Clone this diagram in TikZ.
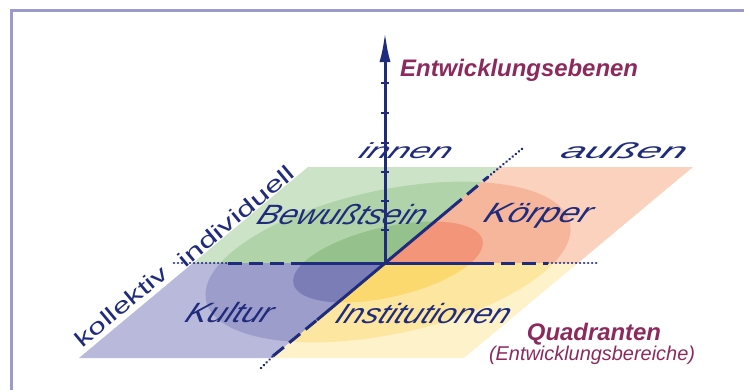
\documentclass[tikz,border=0pt]{standalone}
\usepackage{fontspec}
\setmainfont{Liberation Sans}
\usepackage{xcolor}
\definecolor{Navy}{HTML}{1F2B7B}
\definecolor{Wine}{HTML}{8C2A5E}
\definecolor{Frame}{HTML}{9A9BCB}
\definecolor{GreenA}{HTML}{CCE3C8}
\definecolor{GreenB}{HTML}{B1D3A9}
\definecolor{GreenC}{HTML}{94C18C}
\definecolor{OrangeA}{HTML}{FAD2BE}
\definecolor{OrangeB}{HTML}{F6B69C}
\definecolor{OrangeC}{HTML}{F29579}
\definecolor{YellowA}{HTML}{FEF2CB}
\definecolor{YellowB}{HTML}{FDE6A0}
\definecolor{YellowC}{HTML}{FCD96F}
\definecolor{BlueA}{HTML}{B8B9DB}
\definecolor{BlueB}{HTML}{9C9DCB}
\definecolor{BlueC}{HTML}{7B7DB6}
\usepackage{tikz}
\usetikzlibrary{arrows.meta,calc}
\tikzset{
  axisline/.style={draw=Navy,line width=3bp},
  dashpart/.style={axisline,dash pattern=on 14bp off 7bp},
  dotpart/.style={draw=Navy,line width=2.8bp,line cap=round,dash pattern=on 0.01bp off 4bp},
  tickmark/.style={draw=Navy,line width=2bp},
  quadlabel/.style={text=Navy,font=\fontsize{28}{30}\selectfont\itshape,inner sep=0pt,
    anchor=base,xslant=.45},
  toplabel/.style={text=Navy,font=\fontsize{22}{24}\selectfont\itshape,inner sep=0pt,
    anchor=base,xslant=.5},
  sidelabel/.style={text=Navy,font=\fontsize{22}{24}\selectfont,inner sep=0pt,rotate=39.8},
  headline/.style={text=Wine,font=\fontsize{24}{26}\selectfont\bfseries\itshape,inner sep=0pt,anchor=base}
}
\begin{document}
\begin{tikzpicture}[x=1bp,y=1bp]
\useasboundingbox (0,0) rectangle (744,390);
\draw[Frame,line width=3bp] (11,0) -- (11,379) -- (744,379);
% plane
\coordinate (O) at (385,127);
\coordinate (E) at (388,128);
\coordinate (T) at (500,223);
\coordinate (B) at (271,32);
\coordinate (ML) at (193,127);
\coordinate (MR) at (578,127);
\coordinate (TL) at (308,223);
\coordinate (TR) at (693,223);
\coordinate (BL) at (79,32);
\coordinate (BR) at (464,32);
\foreach \a/\b/\c/\d/\q in {TL/T/O/ML/Green,T/TR/MR/O/Orange,O/MR/BR/B/Yellow,ML/O/B/BL/Blue}{
  \begin{scope}
    \clip (\a) -- (\b) -- (\c) -- (\d) -- cycle;
    \fill[fill=\q A] (\a) -- (\b) -- (\c) -- (\d) -- cycle;
    \fill[fill=\q B,rotate around={12:(E)}] (E) ellipse [x radius=186,y radius=72];
    \fill[fill=\q C,rotate around={13:(E)}] (E) ellipse [x radius=97,y radius=35];
  \end{scope}
}
% labels
\node[quadlabel,xscale=1.15] (bew) at (339,166) {Bewußtsein};
\node[quadlabel,xscale=1.27] (koe) at (535,168) {Körper};
\node[quadlabel,xscale=1.17] (kul) at (226,68) {Kultur};
\node[quadlabel,xscale=1.15] (ins) at (420,67) {Institutionen};
\node[toplabel,xscale=1.7] (inn) at (403,232) {innen};
\node[toplabel,xscale=2.0] (aus) at (621,232) {außen};
\node[sidelabel] (kol) at (121,84) {\scalebox{1.45}[1]{kollektiv}};
\node[sidelabel] (ind) at (236,174) {\scalebox{1.5}[1]{individuell}};
\node[headline,anchor=base west] (ebn) at (400,314) {Entwicklungsebenen};
\node[headline] (qua) at (594,50) {Quadranten};
\node[headline,font=\fontsize{20}{22}\selectfont\itshape] (ber) at (592,30) {(Entwicklungsbereiche)};
% axes
\coordinate (hL0) at (174,127);
\coordinate (hL1) at (228,127);
\coordinate (hL2) at (300,127);
\coordinate (hR2) at (480,127);
\coordinate (hR1) at (548,127);
\coordinate (hR0) at (598,127);
\coordinate (dU2) at (451,182);
\coordinate (dU1) at (488,213);
\coordinate (dU0) at (523,242);
\coordinate (dD2) at (317,70);
\coordinate (dD1) at (273,34);
\coordinate (dD0) at (261,22);
\coordinate (Top) at (385,358);
\draw[dotpart] (hL0) -- (hL1);
\draw[dashpart] (hL1) -- (hL2);
\draw[axisline] (hL2) -- (hR2);
\draw[dashpart] (hR2) -- (hR1);
\draw[dotpart] (hR1) -- (hR0);
\draw[dotpart] (dD0) -- (dD1);
\draw[dashpart] (dD1) -- (dD2);
\draw[axisline] (dD2) -- (dU2);
\draw[dashpart] (dU2) -- (dU1);
\draw[dotpart] (dU1) -- (dU0);
\draw[axisline,-{Latex[length=30bp,width=11bp]}] (O) -- (Top);
\foreach \t in {307,277,247,218,189,160}
  \draw[tickmark] ($(O|-0,\t)+(-4,0)$) -- ($(O|-0,\t)+(4,0)$);
\end{tikzpicture}
\end{document}
